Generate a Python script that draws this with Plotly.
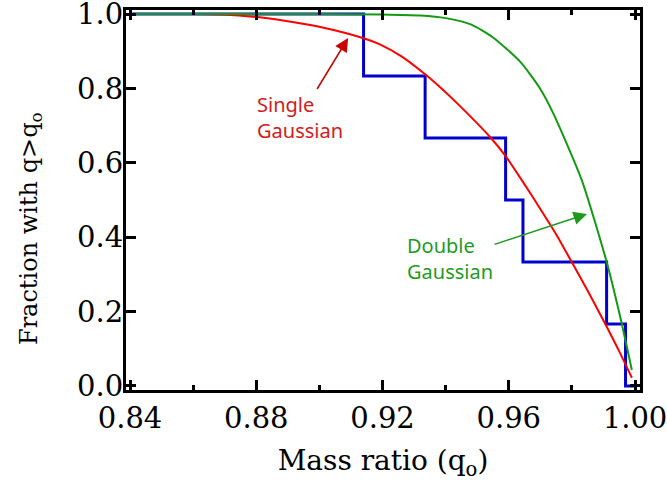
import plotly.graph_objects as go

# ---- data ----
step_q = [0.840, 0.914, 0.9335, 0.959, 0.9645, 0.991, 0.997, 1.000]
step_frac = [1.0, 5/6, 4/6, 3/6, 2/6, 1/6, 0.0, 0.0]

single_q = [0.840, 0.860, 0.873, 0.883, 0.889, 0.901, 0.914, 0.919, 0.926, 0.9335,
            0.938, 0.944, 0.954, 0.959, 0.965, 0.970, 0.975, 0.9795, 0.985, 0.991,
            0.995, 0.999]
single_frac = [1.000, 1.000, 0.997, 0.989, 0.982, 0.964, 0.935, 0.919, 0.886, 0.838,
               0.805, 0.757, 0.670, 0.618, 0.542, 0.476, 0.408, 0.340, 0.256, 0.160,
               0.093, 0.022]

double_q = [0.840, 0.900, 0.920, 0.932, 0.940, 0.948, 0.955, 0.9636, 0.9699, 0.9741,
            0.9831, 0.991, 0.9953, 0.999]
double_frac = [1.000, 1.000, 0.999, 0.996, 0.989, 0.972, 0.937, 0.872, 0.800, 0.733,
               0.554, 0.334, 0.186, 0.043]

x_ticks = [0.84, 0.88, 0.92, 0.96, 1.00]
y_ticks = [0.0, 0.2, 0.4, 0.6, 0.8, 1.0]

fig = go.Figure()
fig.add_trace(go.Scatter(x=step_q, y=step_frac, mode="lines", line_shape="hv",
                         line=dict(color="#0000cc", width=3), showlegend=False))
fig.add_trace(go.Scatter(x=single_q, y=single_frac, mode="lines",
                         line=dict(color="#ff0000", width=2, shape="spline", smoothing=0.6),
                         showlegend=False))
fig.add_trace(go.Scatter(x=double_q, y=double_frac, mode="lines",
                         line=dict(color="#139a13", width=2, shape="spline", smoothing=0.6),
                         showlegend=False))

serif = "DejaVu Serif"
axis_common = dict(showline=True, linewidth=3, linecolor="black", mirror="ticks",
                   ticks="inside", ticklen=10, tickwidth=3, tickcolor="black",
                   showgrid=False, zeroline=False, automargin=False,
                   ticklabeloverflow="allow",
                   tickfont=dict(family=serif, size=29, color="black"))

fig.update_xaxes(range=[0.83873, 1.00158], tickvals=x_ticks,
                 ticktext=[f"{v:.2f}" for v in x_ticks],
                 minor=dict(ticks="inside", ticklen=5, tickwidth=3, tickcolor="black",
                            dtick=0.02, tick0=0.84),
                 title=dict(text="Mass ratio (q<sub>o</sub>)", standoff=17,
                            font=dict(family=serif, size=28, color="black")),
                 **axis_common)
fig.update_yaxes(range=[-0.0108, 1.0108], tickvals=y_ticks,
                 ticktext=[f"{v:.1f}" for v in y_ticks], ticklabelstandoff=-6,
                 **axis_common)

# y-axis title as a rotated annotation (paper coords)
fig.add_annotation(x=-0.1848, y=0.4237, xref="paper", yref="paper",
                   text="Fraction with q>q<sub>o</sub>", textangle=-90,
                   showarrow=False, xanchor="center", yanchor="middle",
                   font=dict(family=serif, size=24, color="black"))

ann_font = "Noto Sans"
fig.add_annotation(x=0.9091, y=0.9355, xref="x", yref="y", text="Single<br>Gaussian",
                   showarrow=True, ax=-48, ay=79, align="left",
                   arrowhead=2, arrowsize=1.8, arrowwidth=1.5, arrowcolor="#c80000",
                   font=dict(family=ann_font, size=20, color="#d41a1a"))
fig.add_annotation(x=0.9848, y=0.4624, xref="x", yref="y", text="Double<br>Gaussian",
                   showarrow=True, ax=-137, ay=45, align="left",
                   arrowhead=2, arrowsize=1.8, arrowwidth=1.5, arrowcolor="#1f9a1f",
                   font=dict(family=ann_font, size=20, color="#1f9a1f"))

fig.update_layout(width=667, height=491, margin=dict(l=126, r=27, t=10, b=101),
                  plot_bgcolor="white", paper_bgcolor="white")

fig.write_html("out.html")
